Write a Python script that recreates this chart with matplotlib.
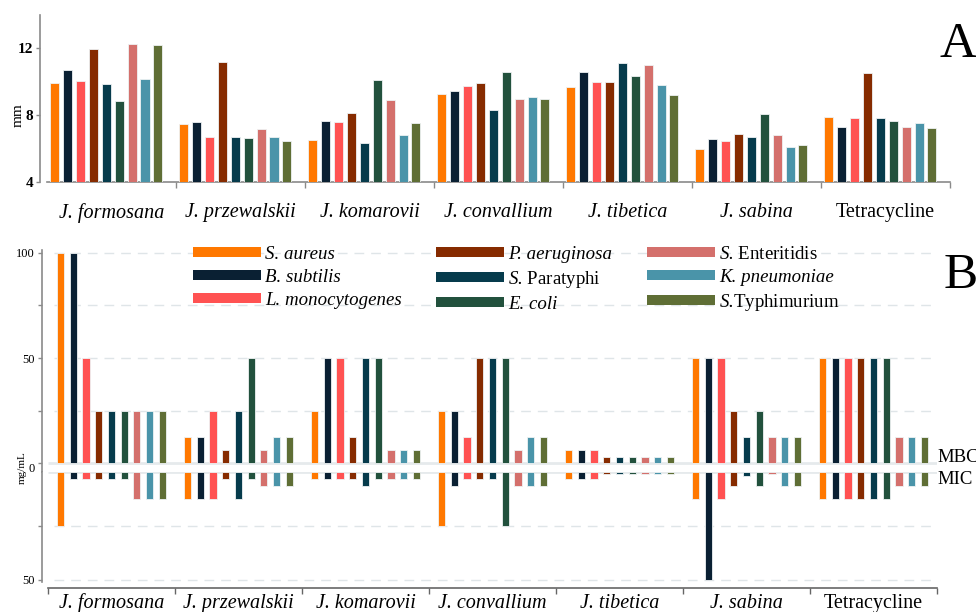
import numpy as np
import matplotlib
matplotlib.use("Agg")
import matplotlib.pyplot as plt
from matplotlib.patches import Patch

plt.rcParams['font.family'] = 'Liberation Serif'
plt.rcParams['mathtext.fontset'] = 'custom'
plt.rcParams['mathtext.rm'] = 'Liberation Serif'
plt.rcParams['mathtext.it'] = 'Liberation Serif:italic'

# groups (extracts + control)
groups = ["J. formosana", "J. przewalskii", "J. komarovii", "J. convallium",
          "J. tibetica", "J. sabina", "Tetracycline"]
italic_group = [True, True, True, True, True, True, False]

strains = ["S. aureus", "B. subtilis", "L. monocytogenes",
           "P. aeruginosa", r"S. $\mathrm{Paratyphi}$", "E. coli",
           r"S. $\mathrm{Enteritidis}$", "K. pneumoniae", r"S.$\mathrm{Typhimurium}$"]
colors = ["#ff7800", "#0a2033", "#ff5252", "#862b00", "#063b4c",
          "#22513d", "#d4706c", "#4a94a9", "#5f6e35"]

# A: inhibition zone diameter (mm), one row per group, one value per strain
zone_mm = [
    [9.95, 10.7, 10.05, 11.95, 9.87, 8.87, 12.28, 10.19, 12.22],
    [7.47, 7.59, 6.69, 11.2, 6.69, 6.61, 7.17, 6.69, 6.43],
    [6.51, 7.67, 7.62, 8.15, 6.34, 10.1, 8.93, 6.84, 7.53],
    [9.29, 9.43, 9.75, 9.91, 8.33, 10.59, 8.99, 9.07, 8.99],
    [9.67, 10.59, 10.0, 10.0, 11.1, 10.33, 11.0, 9.78, 9.23],
    [5.98, 6.56, 6.46, 6.9, 6.72, 8.07, 6.8, 6.08, 6.2],
    [7.87, 7.32, 7.81, 10.51, 7.81, 7.65, 7.32, 7.56, 7.26],
]

# B: MBC (up) and MIC (down), mg/mL
mbc = [
    [100, 100, 50, 25, 25, 25, 25, 25, 25],
    [12.5, 12.5, 25, 6.25, 25, 50, 6.25, 12.5, 12.5],
    [25, 50, 50, 12.5, 50, 50, 6.25, 6.25, 6.25],
    [25, 25, 12.5, 50, 50, 50, 6.25, 12.5, 12.5],
    [6.25, 6.25, 6.25, 3.125, 3.125, 3.125, 3.125, 3.125, 3.125],
    [50, 50, 50, 25, 12.5, 25, 12.5, 12.5, 12.5],
    [50, 50, 50, 50, 50, 50, 12.5, 12.5, 12.5],
]
mic = [
    [25, 3.125, 3.125, 3.125, 3.125, 3.125, 12.5, 12.5, 12.5],
    [12.5, 12.5, 12.5, 3.125, 12.5, 3.125, 6.25, 6.25, 6.25],
    [3.125, 3.125, 3.125, 3.125, 6.25, 3.125, 3.125, 3.125, 3.125],
    [25, 6.25, 3.125, 3.125, 3.125, 25, 6.25, 6.25, 6.25],
    [3.125, 3.125, 3.125, 0.78, 0.78, 0.78, 0.78, 0.78, 0.78],
    [12.5, 50, 12.5, 6.25, 1.56, 6.25, 0.98, 6.25, 6.25],
    [12.5, 12.5, 12.5, 12.5, 12.5, 12.5, 6.25, 6.25, 6.25],
]

W, H = 976, 612
fig = plt.figure(figsize=(W / 100, H / 100), dpi=100)


def rect(l, t, r, b):
    return [l / W, 1 - b / H, (r - l) / W, (b - t) / H]


spine_c = "#8a8a8a"
grid_c = "#dfe5e8"
edge_c = "#eef2f3"
x = np.arange(len(groups))
zone = np.array(zone_mm)
mbc_a = np.array(mbc)
mic_a = np.array(mic)

# ---------------- panel A ----------------
axA = fig.add_axes(rect(40, 15, 950, 182))
for j in range(len(strains)):
    axA.bar(x - 0.44 + 0.1 * j, zone[:, j] - 4, bottom=4, width=0.07,
            color=colors[j], edgecolor=edge_c, linewidth=0.6, zorder=3)
axA.set_xlim(-0.554, 6.5)
axA.set_ylim(4, 14)
axA.set_yticks([4, 8, 12])
axA.set_yticklabels(["4", "8", "12"], fontsize=11, fontweight="bold")
axA.tick_params(axis="y", length=3, width=1, color=spine_c, pad=2)
axA.set_xticks(x)
axA.set_xticks(np.arange(0.5, 7, 1), minor=True)
axA.tick_params(axis="x", which="major", length=0, pad=15)
axA.tick_params(axis="x", which="minor", length=4, width=1, color=spine_c)
axA.set_xticklabels(groups, fontsize=14.5)
for lab, it in zip(axA.get_xticklabels(), italic_group):
    lab.set_style("italic" if it else "normal")
for s in ["top", "right"]:
    axA.spines[s].set_visible(False)
axA.spines["left"].set_color(spine_c)
axA.spines["bottom"].set_color(spine_c)
axA.spines["left"].set_linewidth(1.2)
axA.spines["bottom"].set_linewidth(1.2)
axA.spines["bottom"].set_bounds(-0.5, 6.5)
fig.text(18 / W, 1 - 115 / H, "mm", rotation=90, fontsize=11, ha="center", va="center")

# ---------------- panel B ----------------
axU = fig.add_axes(rect(42, 250, 937, 472.3))
axL = fig.add_axes(rect(42, 472.3, 937, 588))

for j in range(len(strains)):
    axU.bar(x - 0.4 + 0.1 * j, mbc_a[:, j], width=0.057, color=colors[j],
            edgecolor=edge_c, linewidth=0.6, zorder=3)
    axL.bar(x - 0.4 + 0.1 * j, mic_a[:, j], width=0.057, color=colors[j],
            edgecolor=edge_c, linewidth=0.6, zorder=3)

axU.set_xlim(-0.547, 6.5)
axL.set_xlim(-0.547, 6.5)
axU.set_ylim(-4.27, 101.3)
axL.set_ylim(53.8, 0)

for yv in [25, 50, 75, 100]:
    axU.hlines(yv, -0.45, 6.5, colors=grid_c, linestyles=(0, (7, 5)), lw=1, zorder=1)
for yv in [25, 50]:
    axL.hlines(yv, -0.45, 6.5, colors=grid_c, linestyles=(0, (7, 5)), lw=1, zorder=1)
axU.hlines(0, -0.5, 6.5, colors="#e6eaec", lw=2, zorder=1)
axL.hlines(0, -0.5, 6.5, colors="#e6eaec", lw=2, zorder=1)

axU.set_yticks([0, 25, 50, 75, 100])
axU.set_yticklabels(["0", "", "50", "", "100"], fontsize=9)
for lab in axU.get_yticklabels():
    if lab.get_text() == "0":
        lab.set_va("top")
axL.set_yticks([25, 50])
axL.set_yticklabels(["", "50"], fontsize=9)
for a in (axU, axL):
    a.tick_params(axis="y", length=3, width=1, color=spine_c, pad=2)
    for s in ["top", "right"]:
        a.spines[s].set_visible(False)
    a.spines["left"].set_color(spine_c)
    a.spines["left"].set_linewidth(1.2)
axU.spines["bottom"].set_visible(False)
axU.set_xticks([])
axL.spines["left"].set_bounds(0, 51)
axL.spines["bottom"].set_color("#666666")
axL.spines["bottom"].set_linewidth(1.2)
axL.spines["bottom"].set_bounds(-0.5, 6.5)
axL.set_xticks(x)
axL.set_xticks(np.arange(-0.5, 7, 1), minor=True)
axL.tick_params(axis="x", which="major", length=0, pad=4)
axL.tick_params(axis="x", which="minor", length=4, width=1, color="#666666")
axL.set_xticklabels(groups, fontsize=14.5)
for lab, it in zip(axL.get_xticklabels(), italic_group):
    lab.set_style("italic" if it else "normal")

fig.text(22 / W, 1 - 468 / H, "mg/mL", rotation=90, fontsize=8, ha="center", va="center")
fig.text(937 / W, 1 - 457 / H, "MBC", fontsize=13.5, ha="left", va="center")
fig.text(937 / W, 1 - 480 / H, "MIC", fontsize=13.5, ha="left", va="center")

handles = [Patch(facecolor=c, edgecolor="none") for c in colors]
fig.legend(handles, strains, ncol=3, loc="upper left",
           bbox_to_anchor=(193 / W, 1 - 246 / H), frameon=False,
           borderpad=0, borderaxespad=0, handlelength=3.6, handleheight=0.45,
           handletextpad=0.2, columnspacing=1.85, labelspacing=0.32,
           prop=dict(family="Liberation Serif", style="italic", size=13.6))

fig.text(940 / W, 1 - 57 / H, "A", fontsize=37, ha="left", va="baseline")
fig.text(944 / W, 1 - 288 / H, "B", fontsize=37, ha="left", va="baseline")

fig.savefig("out.png", dpi=100)
